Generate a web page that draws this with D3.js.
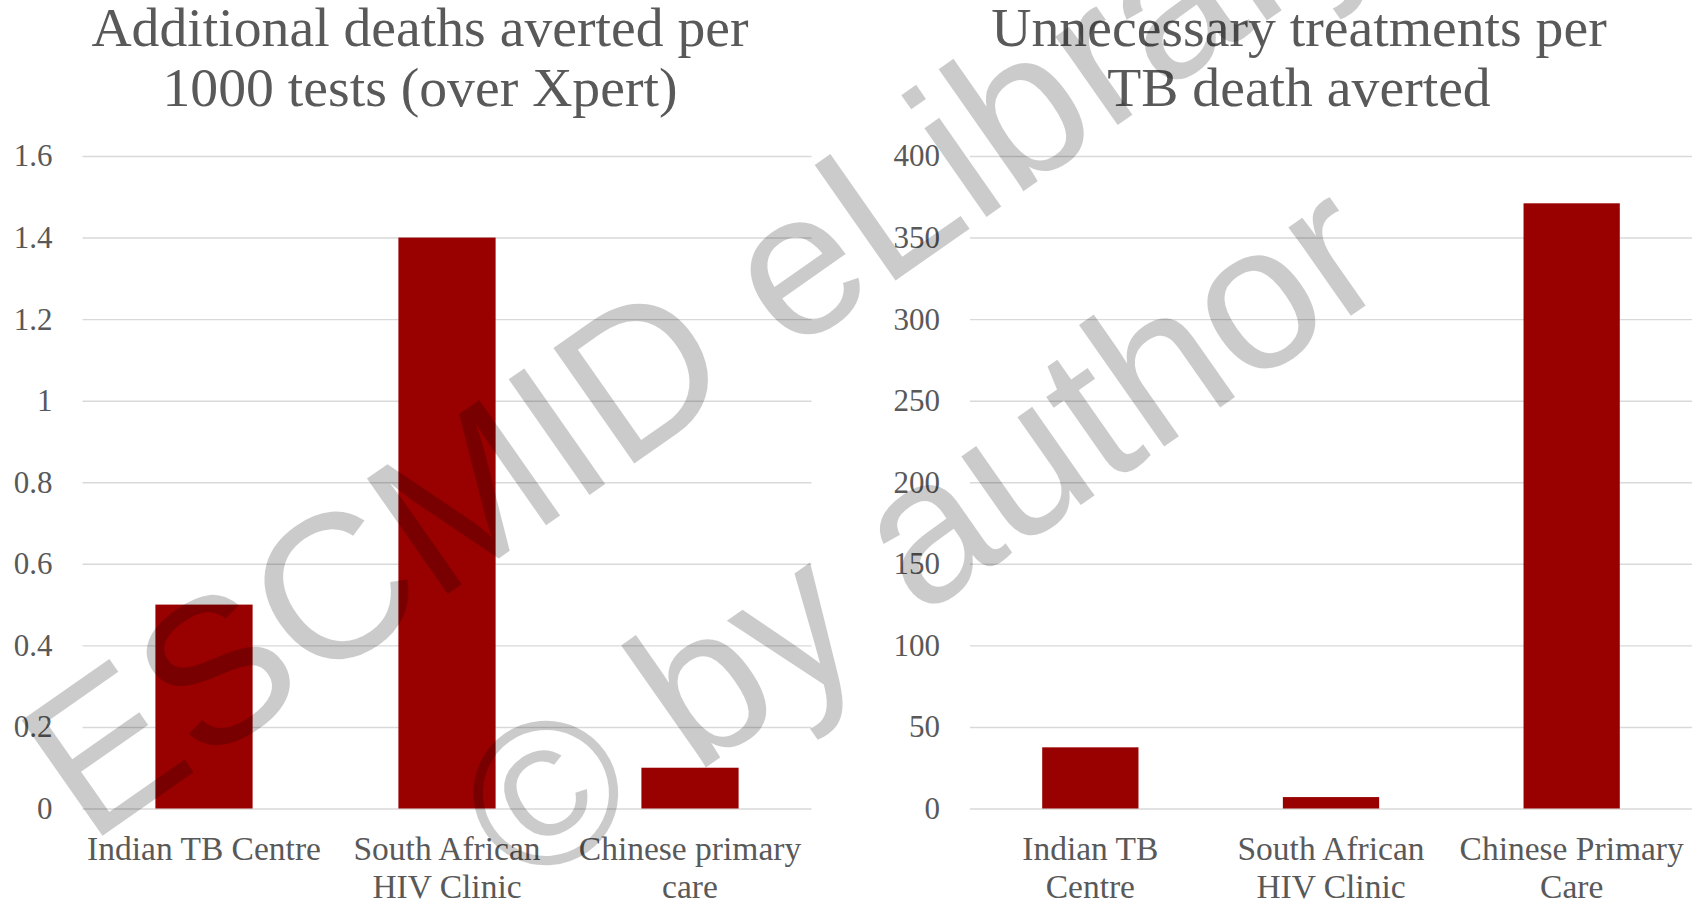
<!DOCTYPE html>
<html>
<head>
<meta charset="utf-8">
<script src="https://cdn.jsdelivr.net/npm/d3@7"></script>
<style>
  html, body { margin: 0; padding: 0; background: #fff; }
  svg { display: block; }
  text { font-family: "Liberation Serif", "DejaVu Serif", serif; fill: #595959; }
</style>
</head>
<body>
<svg id="chart" width="1707" height="904"></svg>
<script>
// Deaths averted per 1000 tests, relative to Xpert
const deathsCategories = ["Indian TB Centre", "South African\nHIV Clinic", "Chinese primary\ncare"];
const deathsValues = [0.5, 1.4, 0.1];
const deathsTicks = [0, 0.2, 0.4, 0.6, 0.8, 1, 1.2, 1.4, 1.6];
const deathsTitle = ["Additional deaths averted per", "1000 tests (over Xpert)"];

// Unnecessary treatments per TB death averted
const treatCategories = ["Indian TB\nCentre", "South African\nHIV Clinic", "Chinese Primary\nCare"];
const treatValues = [37.5, 7, 371];
const treatTicks = [0, 50, 100, 150, 200, 250, 300, 350, 400];
const treatTitle = ["Unnecessary treatments per", "TB death averted"];

const watermarkLines = ["ESCMID eLibrary", "© by author"];

const svg = d3.select("#chart");
const BAR = "#990000";
const GRID = "#d9d9d9";

function drawPanel(opt) {
  const g = svg.append("g");
  const x = d3.scaleBand()
    .domain(opt.categories)
    .range([opt.x0, opt.x1])
    .paddingInner(0.6)
    .paddingOuter(0.3);
  const y = d3.scaleLinear()
    .domain([0, d3.max(opt.ticks)])
    .range([opt.yBase, opt.yTop]);

  // horizontal gridlines + value labels
  const yAxis = d3.axisLeft(y)
    .tickValues(opt.ticks)
    .tickFormat(d3.format("~g"))
    .tickSize(-(opt.x1 - opt.x0))
    .tickPadding(30);
  const ga = g.append("g")
    .attr("transform", `translate(${opt.x0},0)`)
    .call(yAxis);
  ga.select(".domain").remove();
  ga.selectAll(".tick line").attr("stroke", GRID).attr("stroke-width", 1.4);
  ga.selectAll(".tick text")
    .style("font-family", "'Liberation Serif', serif")
    .style("font-size", "31px")
    .style("fill", "#595959");

  // bars
  g.selectAll("rect.bar")
    .data(opt.values)
    .join("rect")
    .attr("class", "bar")
    .attr("x", (d, i) => x(opt.categories[i]))
    .attr("width", x.bandwidth())
    .attr("y", d => y(d))
    .attr("height", d => y(0) - y(d))
    .attr("fill", BAR);

  // category labels (multi-line)
  opt.categories.forEach(c => {
    const t = g.append("text")
      .attr("text-anchor", "middle")
      .style("font-size", "33.5px")
      .attr("x", x(c) + x.bandwidth() / 2)
      .attr("y", opt.labelY);
    c.split("\n").forEach((line, k) => {
      t.append("tspan")
        .attr("x", x(c) + x.bandwidth() / 2)
        .attr("dy", k === 0 ? 0 : 38)
        .text(line);
    });
  });

  // title
  const tt = g.append("text")
    .attr("text-anchor", "middle")
    .style("font-size", "55.7px")
    .attr("x", opt.titleX)
    .attr("y", opt.titleY);
  opt.title.forEach((line, k) => {
    tt.append("tspan")
      .attr("x", opt.titleX)
      .attr("dy", k === 0 ? 0 : 60)
      .text(line);
  });
}

drawPanel({
  categories: deathsCategories, values: deathsValues, ticks: deathsTicks, title: deathsTitle,
  x0: 82.5, x1: 811.5, yBase: 808.5, yTop: 156,
  labelY: 860, titleX: 420, titleY: 46
});

drawPanel({
  categories: treatCategories, values: treatValues, ticks: treatTicks, title: treatTitle,
  x0: 970, x1: 1692, yBase: 808.5, yTop: 156,
  labelY: 860, titleX: 1299, titleY: 46
});

// translucent diagonal watermark drawn over the charts
const wmOffsets = [[-28, 5], [35, 295]];
const wm = svg.append("g")
  .attr("transform", "translate(762,368) rotate(-35)")
  .attr("opacity", 0.2);
watermarkLines.forEach((line, k) => {
  wm.append("text")
    .attr("text-anchor", "middle")
    .attr("x", wmOffsets[k][0])
    .attr("y", wmOffsets[k][1])
    .style("font-family", "'Liberation Sans', Arial, sans-serif")
    .style("font-size", "205px")
    .style("fill", "#000")
    .text(line);
});
</script>
</body>
</html>
